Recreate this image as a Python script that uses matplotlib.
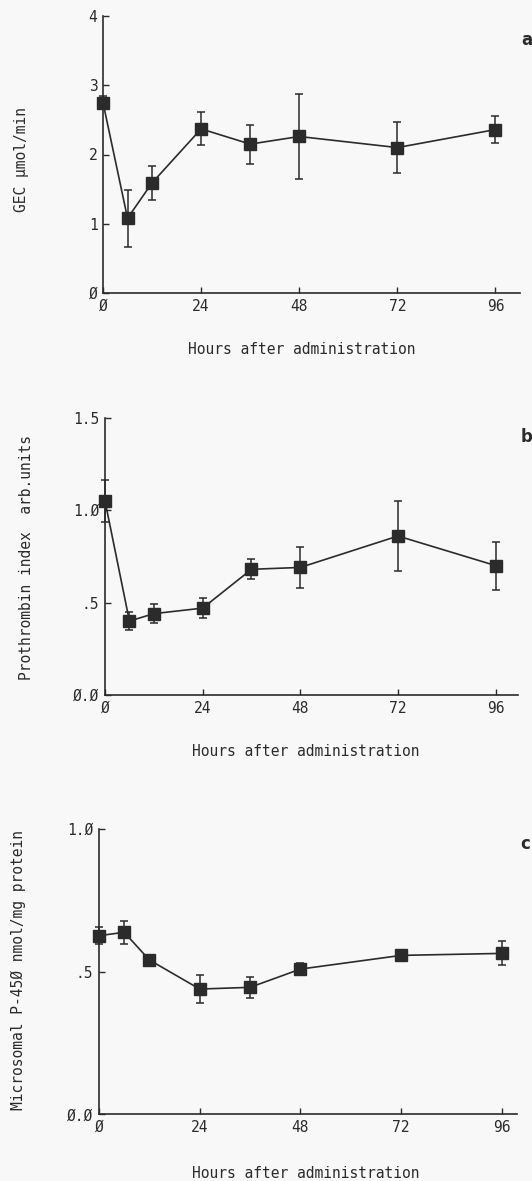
import matplotlib
matplotlib.use("Agg")
import matplotlib.pyplot as plt

# --- data ---
hours = [0, 6, 12, 24, 36, 48, 72, 96]

gec_mean = [2.75, 1.08, 1.59, 2.37, 2.15, 2.26, 2.10, 2.36]
gec_err = [0.10, 0.41, 0.25, 0.24, 0.28, 0.61, 0.37, 0.20]

pt_mean = [1.05, 0.40, 0.44, 0.47, 0.68, 0.69, 0.86, 0.70]
pt_err = [0.115, 0.05, 0.05, 0.053, 0.054, 0.113, 0.19, 0.13]

p450_mean = [0.626, 0.638, 0.541, 0.439, 0.445, 0.509, 0.557, 0.564]
p450_err = [0.03, 0.04, 0.015, 0.05, 0.036, 0.02, 0.02, 0.042]

x_ticks = [0, 24, 48, 72, 96]
x_ticklabels = ["Ø", "24", "48", "72", "96"]
a_yticks = [0, 1, 2, 3, 4]
a_yticklabels = ["Ø", "1", "2", "3", "4"]
b_yticks = [0.0, 0.5, 1.0, 1.5]
b_yticklabels = ["Ø.Ø", ".5", "1.Ø", "1.5"]
c_yticks = [0.0, 0.5, 1.0]
c_yticklabels = ["Ø.Ø", ".5", "1.Ø"]

xlabel = "Hours after administration"
ylabels = ["GEC µmol/min", "Prothrombin index  arb.units",
           "Microsomal P-45Ø nmol/mg protein"]
# ---------------------------------

INK = "#2b2b2b"
FONT = "DejaVu Sans Mono"
plt.rcParams["font.family"] = [FONT, "DejaVu Sans"]
plt.rcParams["font.size"] = 10

fig = plt.figure(figsize=(5.32, 11.81), dpi=100, facecolor="#f8f8f8")

W, H = 532.0, 1181.0


def make_axes(left_px, top_px, bottom_px, right_px):
    return fig.add_axes([left_px / W, 1 - bottom_px / H,
                         (right_px - left_px) / W, (bottom_px - top_px) / H])


panels = [
    # axes box (px), xmax, ylim, yticks, ylabels, data, letter pos, label pos
    dict(box=(103, 16, 293, 520), xmax=102.0, ylim=(0, 4),
         yt=a_yticks, ytl=a_yticklabels, y=gec_mean, e=gec_err,
         letter="a", lpos=(527, 40), ylab=ylabels[0], ylx=22, yly=160,
         xly=350, xlx=302),
    dict(box=(105, 417.7, 695, 518), xmax=101.5, ylim=(0, 1.5),
         yt=b_yticks, ytl=b_yticklabels, y=pt_mean, e=pt_err,
         letter="b", lpos=(527, 437), ylab=ylabels[1], ylx=27, yly=557,
         xly=752, xlx=306),
    dict(box=(99, 829, 1114.3, 517), xmax=99.6, ylim=(0, 1.0),
         yt=c_yticks, ytl=c_yticklabels, y=p450_mean, e=p450_err,
         letter="c", lpos=(525, 844), ylab=ylabels[2], ylx=18, yly=970,
         xly=1173, xlx=306),
]

for p in panels:
    l, t, b, r = p["box"]
    ax = make_axes(l, t, b, r)
    ax.set_facecolor("none")
    ax.errorbar(hours, p["y"], yerr=p["e"], color=INK, ecolor=INK,
                marker="s", markersize=8, linewidth=1.2, elinewidth=1.1,
                capsize=3, capthick=1.1, clip_on=False, zorder=3)
    ax.set_xlim(0, p["xmax"])
    ax.set_ylim(*p["ylim"])
    ax.set_xticks(x_ticks)
    ax.set_xticklabels(x_ticklabels)
    ax.set_yticks(p["yt"])
    ax.set_yticklabels(p["ytl"])
    for side in ["top", "right"]:
        ax.spines[side].set_visible(False)
    for side in ["left", "bottom"]:
        ax.spines[side].set_color(INK)
        ax.spines[side].set_linewidth(1.2)
    ax.tick_params(direction="in", length=4, width=1.0, colors=INK,
                   labelsize=10.5, pad=4)
    fig.text(p["lpos"][0] / W, 1 - p["lpos"][1] / H, p["letter"],
             fontsize=12, fontweight="bold", color=INK,
             family="DejaVu Sans", ha="center", va="center")
    fig.text(p["ylx"] / W, 1 - p["yly"] / H, p["ylab"], rotation=90,
             fontsize=10.5, color=INK, ha="center", va="center")
    fig.text(p["xlx"] / W, 1 - p["xly"] / H, xlabel,
             fontsize=10.5, color=INK, ha="center", va="center")

fig.savefig("out.png", dpi=100, facecolor=fig.get_facecolor())
